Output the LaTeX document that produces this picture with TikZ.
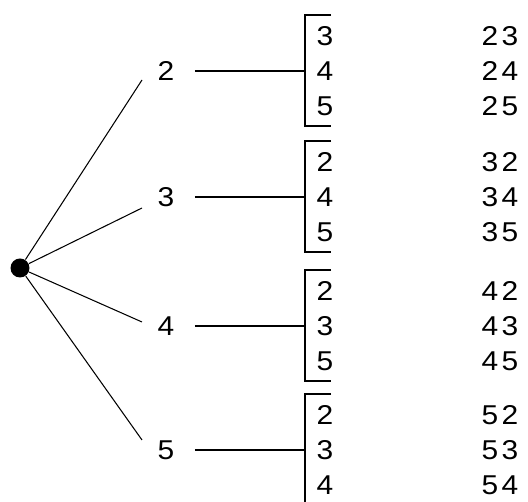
\documentclass[tikz,border=0pt]{standalone}
\usepackage{fontspec}
\setmainfont{Liberation Sans}[FakeStretch=1.1]
\begin{document}
\begin{tikzpicture}[x=0.02cm, y=-0.02cm, line width=0.6pt,
  num/.style={inner sep=0pt, font=\fontsize{15.5}{18}\selectfont},
  root/.style={circle, fill, inner sep=0pt, minimum size=0.38cm}]
  \useasboundingbox (0,0) rectangle (528,502);

  % root of the tree
  \node[root] (o) at (20,268) {};

  % first digit, its bracket and the pairs
  \foreach \a/\y/\ey/\p/\q/\r in {2/71/80/3/4/5, 3/197/208/2/4/5, 4/326/322/2/3/5, 5/450/440/2/3/4}{
    \node[num] (f\a) at (166,\y) {\a};
    \coordinate (e\a) at (142,\ey);
    \coordinate (b\a) at (305,\y);
    \draw (o) -- (e\a);
    \draw[shorten <=0.4cm] (f\a.east) -- (b\a);
    \draw (331,\y-56) -| (b\a) |- (331,\y+55);
    \foreach \s [count=\i from -1] in {\p,\q,\r}{
      \node[num] (s\a\s) at (325,\y+35*\i) {\s};
      \node[num] (p\a\s) at (500,\y+35*\i) {\a\hspace{2pt}\s};
    }
  }
\end{tikzpicture}
\end{document}
